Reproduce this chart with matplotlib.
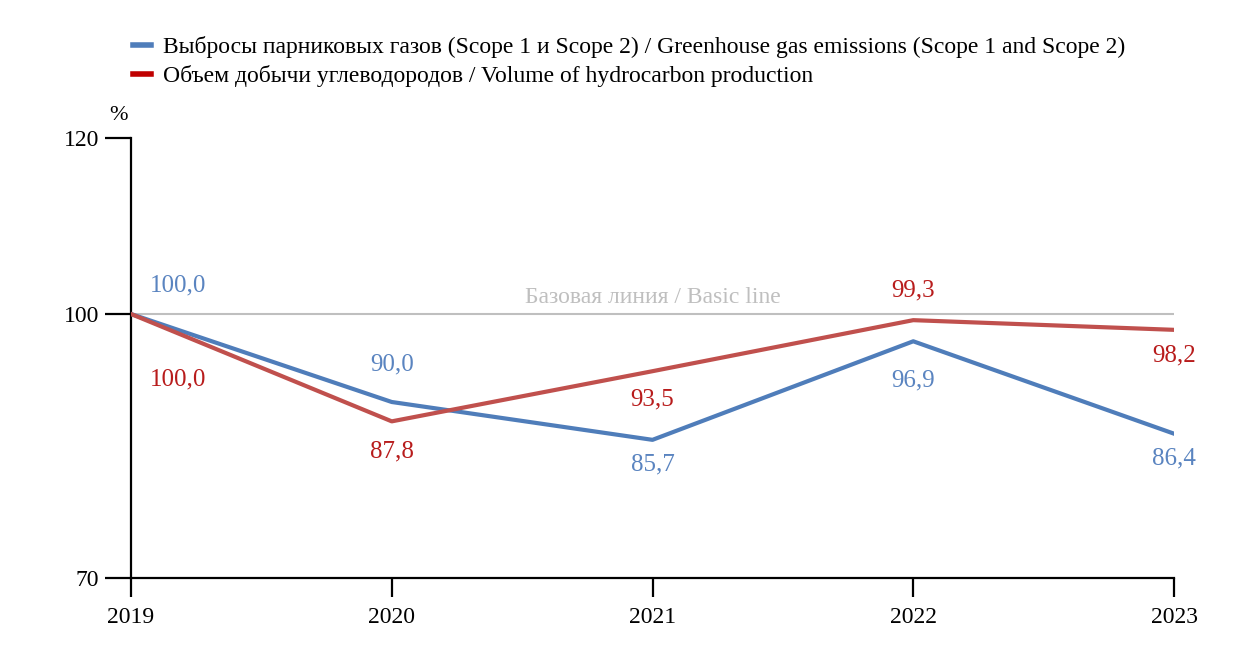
import matplotlib.pyplot as plt
from matplotlib.lines import Line2D

years = [2019, 2020, 2021, 2022, 2023]
emissions = [100.0, 90.0, 85.7, 96.9, 86.4]
production = [100.0, 87.8, 93.5, 99.3, 98.2]

emis_label = "Выбросы парниковых газов (Scope 1 и Scope 2) / Greenhouse gas emissions (Scope 1 and Scope 2)"
prod_label = "Объем добычи углеводородов / Volume of hydrocarbon production"

# label offsets in pixels (dx, dy)
emis_off = [(47, 29), (0, 38), (0, -25), (0, -39), (0, -25)]
prod_off = [(47, -65), (0, -30), (0, -28), (0, 30), (0, -26)]

plt.rcParams['font.family'] = ['Liberation Serif', 'DejaVu Serif']

blue = '#4F7DBA'
red = '#C0504D'
blue_txt = '#5A84C0'
red_txt = '#B81C1C'

fig = plt.figure(figsize=(12.5, 6.66), dpi=100)
ax = fig.add_axes([131/1250, 88/666, (1174-131)/1250, 440/666])

ax.axhline(100, color='#BFBFBF', lw=1.5, zorder=1)
ax.text(2021, 100.7, "Базовая линия / Basic line", color='#BFBFBF',
        ha='center', va='bottom', fontsize=17)

ax.plot(years, emissions, color=blue, lw=3, zorder=3)
ax.plot(years, production, color=red, lw=3, zorder=3)

for x, v, (dx, dy) in zip(years, emissions, emis_off):
    ax.annotate(f"{v:.1f}".replace('.', ','), (x, v), xytext=(dx*0.72, dy*0.72),
                textcoords='offset points', ha='center', va='center',
                color=blue_txt, fontsize=18)
for x, v, (dx, dy) in zip(years, production, prod_off):
    ax.annotate(f"{v:.1f}".replace('.', ','), (x, v), xytext=(dx*0.72, dy*0.72),
                textcoords='offset points', ha='center', va='center',
                color=red_txt, fontsize=18)

ax.set_xlim(2019, 2023)
ax.set_ylim(70, 120)
ax.set_xticks(years)
ax.set_yticks([70, 100, 120])
ax.spines['top'].set_visible(False)
ax.spines['right'].set_visible(False)
ax.spines['left'].set_linewidth(1.6)
ax.spines['bottom'].set_linewidth(1.6)
ax.tick_params(axis='y', direction='out', length=19, width=1.6, labelsize=17, pad=4)
ax.tick_params(axis='x', direction='out', length=14, width=1.6, labelsize=17, pad=7)
ax.text(-0.012, 1.05, "%", transform=ax.transAxes, fontsize=16, ha='center', va='center')

h1 = Line2D([], [], color=blue, lw=4)
h2 = Line2D([], [], color='#C00000', lw=4)
fig.legend([h1, h2], [emis_label, prod_label], loc='upper left',
           bbox_to_anchor=(124/1250, 1-27/666), frameon=False, fontsize=17,
           handlelength=0.75, handletextpad=0.5, labelspacing=0.28, borderaxespad=0)

fig.savefig('out.png', dpi=100)
